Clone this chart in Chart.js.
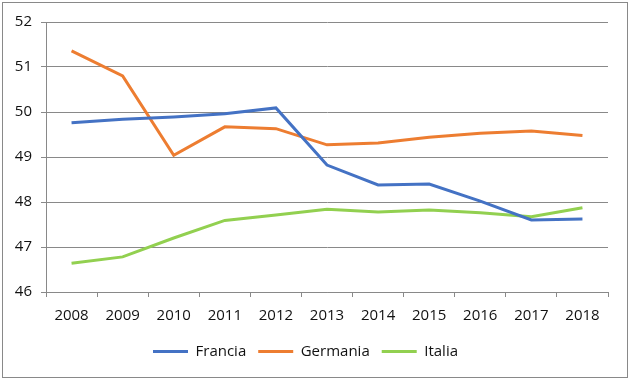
<!DOCTYPE html>
<html>
<head>
<meta charset="utf-8">
<script src="https://cdn.jsdelivr.net/npm/chart.js@4"></script>
<style>
    html, body { margin: 0; padding: 0; background: #fff; }
    #box {
        position: absolute; left: 2px; top: 2px;
        width: 624px; height: 374px;
        border: 1px solid #898989;
    }
</style>
</head>
<body>
<div id="box"><canvas id="mainChart" width="624" height="374"></canvas></div>
<script>
// Chart data
const years = ['2008', '2009', '2010', '2011', '2012', '2013', '2014', '2015', '2016', '2017', '2018'];
const francia = [49.76, 49.84, 49.89, 49.96, 50.09, 48.82, 48.38, 48.40, 48.02, 47.60, 47.62];
const germania = [51.36, 50.80, 49.04, 49.67, 49.63, 49.27, 49.31, 49.44, 49.53, 49.58, 49.48];
const italia = [46.64, 46.78, 47.20, 47.59, 47.71, 47.84, 47.78, 47.82, 47.76, 47.67, 47.87];

const gridColor = '#898989';
const font = { family: 'Open Sans', size: 15 };

function series(label, data, color) {
    return {
        label: label,
        data: data,
        borderColor: color,
        backgroundColor: color,
        borderWidth: 3,
        pointRadius: 0,
        tension: 0
    };
}

const ctx = document.getElementById('mainChart').getContext('2d');
new Chart(ctx, {
    type: 'line',
    data: {
        labels: years,
        datasets: [
            series('Francia', francia, '#4472C4'),
            series('Germania', germania, '#ED7D31'),
            series('Italia', italia, '#92D050')
        ]
    },
    options: {
        responsive: false,
        animation: false,
        layout: { padding: { top: 19, right: 19, left: 0, bottom: 8 } },
        scales: {
            x: {
                offset: true,
                grid: {
                    offset: true,
                    drawOnChartArea: false,
                    drawTicks: true,
                    tickLength: 5,
                    color: gridColor
                },
                border: { display: true, color: gridColor },
                ticks: { color: '#111', font: font, padding: 10, maxRotation: 0 },
                afterFit: function(scale) { scale.height = 40; }
            },
            y: {
                min: 46,
                max: 52,
                ticks: { stepSize: 1, color: '#111', font: font, padding: 9 },
                grid: { color: gridColor, tickLength: 5 },
                border: { display: true, color: gridColor },
                afterFit: function(scale) { scale.width = 43; }
            }
        },
        plugins: {
            legend: {
                position: 'bottom',
                labels: {
                    color: '#111',
                    font: font,
                    boxWidth: 35,
                    boxHeight: 3,
                    padding: 12,
                    generateLabels: function(chart) {
                        return chart.data.datasets.map((ds, i) => ({
                            text: ds.label,
                            fillStyle: ds.borderColor,
                            strokeStyle: ds.borderColor,
                            lineWidth: 0,
                            fontColor: '#111',
                            datasetIndex: i
                        }));
                    }
                }
            },
            tooltip: { enabled: false }
        }
    }
});
</script>
</body>
</html>
